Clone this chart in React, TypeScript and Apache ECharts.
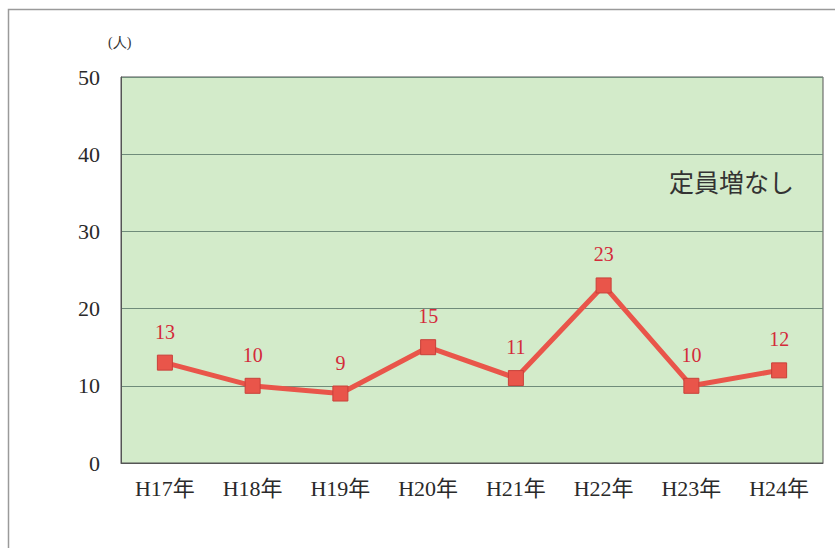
import React, { useEffect, useRef } from "react";
import * as echarts from "echarts";

const categories = ["H17年", "H18年", "H19年", "H20年", "H21年", "H22年", "H23年", "H24年"];
const values = [13, 10, 9, 15, 11, 23, 10, 12];
const yTicks = [0, 10, 20, 30, 40, 50];
const unitLabel = "(人)";
const noteText = "定員増なし";

export default function App() {
  const ref = useRef<HTMLDivElement>(null);
  useEffect(() => {
    document.body.style.margin = "0";
    const chart = echarts.init(ref.current!, null, { renderer: "svg" });
    chart.setOption({
      animation: false,
      backgroundColor: "#ffffff",
      grid: { left: 121, right: 12, top: 77, bottom: 85, show: true, backgroundColor: "#d3ebca", borderColor: "#555", borderWidth: 1 },
      graphic: [
        { type: "rect", shape: { x: 8.5, y: 9.5, width: 840, height: 560 }, style: { fill: "none", stroke: "#9a9a9a", lineWidth: 1.5 } },
        { type: "text", left: 108, top: 35, style: { text: unitLabel, font: "14px 'Liberation Serif', serif", fill: "#333" } },
        { type: "text", left: 669, top: 168, style: { text: noteText, font: "25px 'Noto Sans CJK JP', sans-serif", fill: "#333" } },
      ],
      xAxis: {
        type: "category",
        data: categories,
        boundaryGap: true,
        axisLine: { lineStyle: { color: "#555", width: 1 } },
        axisTick: { inside: true, length: 5, lineStyle: { color: "#555" } },
        axisLabel: { margin: 14, fontSize: 22, color: "#2a2a2a", fontFamily: "'Liberation Serif', 'Noto Sans CJK JP', serif" },
      },
      yAxis: {
        type: "value",
        min: yTicks[0],
        max: yTicks[yTicks.length - 1],
        interval: 10,
        axisLine: { show: true, lineStyle: { color: "#555" } },
        axisTick: { show: false },
        splitLine: { lineStyle: { color: "#6f8c7a", width: 1 } },
        axisLabel: { margin: 21, fontSize: 22, color: "#2a2a2a", fontFamily: "'Liberation Serif', serif" },
      },
      series: [
        {
          type: "line",
          data: values,
          symbol: "rect",
          symbolSize: 15,
          lineStyle: { color: "#e9554a", width: 5 },
          itemStyle: { color: "#e9554a", borderColor: "#c9403a", borderWidth: 1 },
          label: {
            show: true,
            position: "top",
            distance: 13,
            fontSize: 20,
            color: "#d42a3a",
            fontFamily: "'Liberation Serif', serif",
          },
        },
      ],
    });
    return () => chart.dispose();
  }, []);
  return <div ref={ref} style={{ width: 835, height: 548 }} />;
}
